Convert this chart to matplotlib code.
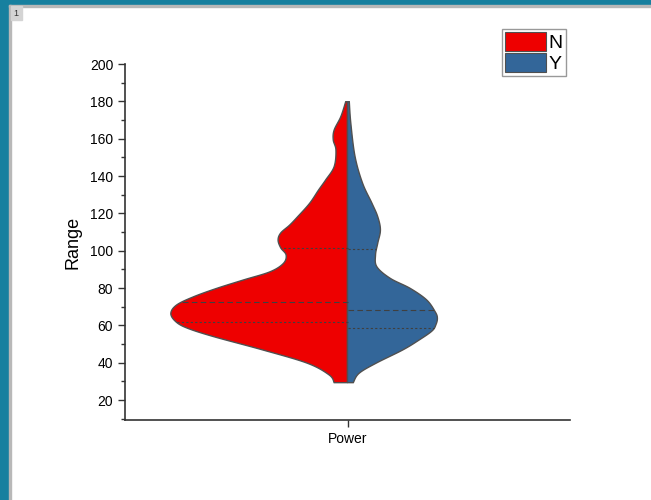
import matplotlib
matplotlib.use("Agg")
import matplotlib.pyplot as plt
import numpy as np
from matplotlib.patches import Patch, Rectangle

# half-width profiles of the split violin (value, half width in category units)
n_y = [179.8, 171.8, 164.6, 159.3, 153.9, 145.0, 137.9, 132.5, 125.4, 118.2, 113.7,
       109.5, 105.7, 101.5, 97.7, 93.2, 88.7, 84.3, 79.8, 75.3, 70.9, 66.4, 62.0,
       58.5, 53.9, 46.8, 39.7, 33.4, 29.3]
n_w = [0.004, 0.015, 0.030, 0.032, 0.026, 0.030, 0.049, 0.065, 0.085, 0.112, 0.130,
       0.150, 0.156, 0.150, 0.138, 0.144, 0.174, 0.234, 0.294, 0.346, 0.384, 0.397,
       0.386, 0.360, 0.300, 0.190, 0.090, 0.041, 0.030]
y_y = [179.8, 168.2, 150.4, 136.1, 125.4, 118.2, 111.1, 104.0, 97.7, 91.4,
       85.2, 79.8, 73.6, 67.3, 64.0, 60.5, 57.0, 52.0, 46.8, 39.7, 34.3, 29.3]
y_w = [0.004, 0.0075, 0.017, 0.034, 0.055, 0.068, 0.074, 0.068, 0.063, 0.066,
       0.096, 0.141, 0.178, 0.197, 0.202, 0.199, 0.190, 0.160, 0.124, 0.064, 0.026, 0.013]

# quartiles (q1, median, q3)
n_q = [61.6, 72.4, 101.7]
y_q = [58.4, 68.2, 100.7]

groups = ["N", "Y"]
colors = ["#ee0000", "#336699"]
edge = "#505050"


def smooth(v, w):
    # catmull-rom through the read points, only for drawing
    v = np.asarray(v, float)[::-1]
    w = np.asarray(w, float)[::-1]
    p = np.column_stack([v, w])
    p = np.vstack([p[0], p, p[-1]])
    out = []
    for i in range(1, len(p) - 2):
        p0, p1, p2, p3 = p[i - 1], p[i], p[i + 1], p[i + 2]
        t = np.linspace(0, 1, 12, endpoint=False)[:, None]
        out.append(0.5 * ((2 * p1) + (-p0 + p2) * t + (2 * p0 - 5 * p1 + 4 * p2 - p3) * t ** 2
                          + (-p0 + 3 * p1 - 3 * p2 + p3) * t ** 3))
    out.append(p[-2][None, :])
    out = np.vstack(out)
    return out[:, 0], out[:, 1]


fig = plt.figure(figsize=(6.51, 5.0), dpi=100)
plt.rcParams['font.family'] = ['Liberation Sans', 'DejaVu Sans']

# window frame
fig.patches.append(Rectangle((0, 0), 9 / 651, 1, transform=fig.transFigure, color="#17809f", zorder=-5))
fig.patches.append(Rectangle((0, 1 - 5 / 500), 1, 5 / 500, transform=fig.transFigure, color="#17809f", zorder=-5))
fig.patches.append(Rectangle((9 / 651, 0), 1.5 / 651, 1 - 5 / 500, transform=fig.transFigure, color="#b8b8b8", zorder=-4))
fig.patches.append(Rectangle((9 / 651, 1 - 6.5 / 500), 1, 1.5 / 500, transform=fig.transFigure, color="#b8b8b8", zorder=-4))
fig.patches.append(Rectangle((10.5 / 651, 1 - 20 / 500), 11 / 651, 13.5 / 500, transform=fig.transFigure, color="#d4d4d4", zorder=-3))
fig.text(16 / 651, 1 - 13.5 / 500, "1", fontsize=6.5, ha="center", va="center", color="#333333")

ax = fig.add_axes([125 / 651, 80 / 500, 445 / 651, 356 / 500])

x0 = 1.0
for side, (vv, ww, q, col) in enumerate([(n_y, n_w, n_q, colors[0]), (y_y, y_w, y_q, colors[1])]):
    sv, sw = smooth(vv, ww)
    sign = -1 if side == 0 else 1
    xs = np.concatenate([[x0], x0 + sign * sw, [x0]])
    ys = np.concatenate([[sv[0]], sv, [sv[-1]]])
    ax.fill(xs, ys, facecolor=col, edgecolor=edge, linewidth=1.0, zorder=2)
    for k, qv in enumerate(q):
        wq = np.interp(qv, sv, sw)
        style = (0, (5, 3)) if k == 1 else (0, (2, 2))
        ax.plot([x0, x0 + sign * wq], [qv, qv], color="#404040", linestyle=style, linewidth=0.8, zorder=3)

ax.set_xlim(0.5, 1.5)
ax.set_ylim(9.3, 200)
ax.set_yticks(np.arange(20, 201, 20))
ax.set_yticks(np.arange(10, 201, 10), minor=True)
ax.set_xticks([1.0])
ax.set_xticklabels(["Power"], fontsize=11)
ax.set_ylabel("Range", fontsize=13, labelpad=6)

for s in ["top", "right"]:
    ax.spines[s].set_visible(False)
for s in ["left", "bottom"]:
    ax.spines[s].set_color("#333333")
    ax.spines[s].set_linewidth(1.2)
ax.tick_params(axis="both", which="major", direction="out", length=5, width=1, colors="#333333",
               labelsize=10, labelcolor="black")
ax.tick_params(axis="y", which="minor", direction="out", length=3, width=1, colors="#333333")

handles = [Patch(facecolor=c, edgecolor="#505050", linewidth=0.8) for c in colors]
fig.legend(handles, groups, loc="upper left", bbox_to_anchor=(502 / 651, 1 - 29 / 500),
           fontsize=14, frameon=True, fancybox=False, edgecolor="#999999", framealpha=1,
           handlelength=2.1, handleheight=1.1, handletextpad=0.15, labelspacing=0.05,
           borderpad=0.15, borderaxespad=0)

fig.savefig("out.png", dpi=100)
